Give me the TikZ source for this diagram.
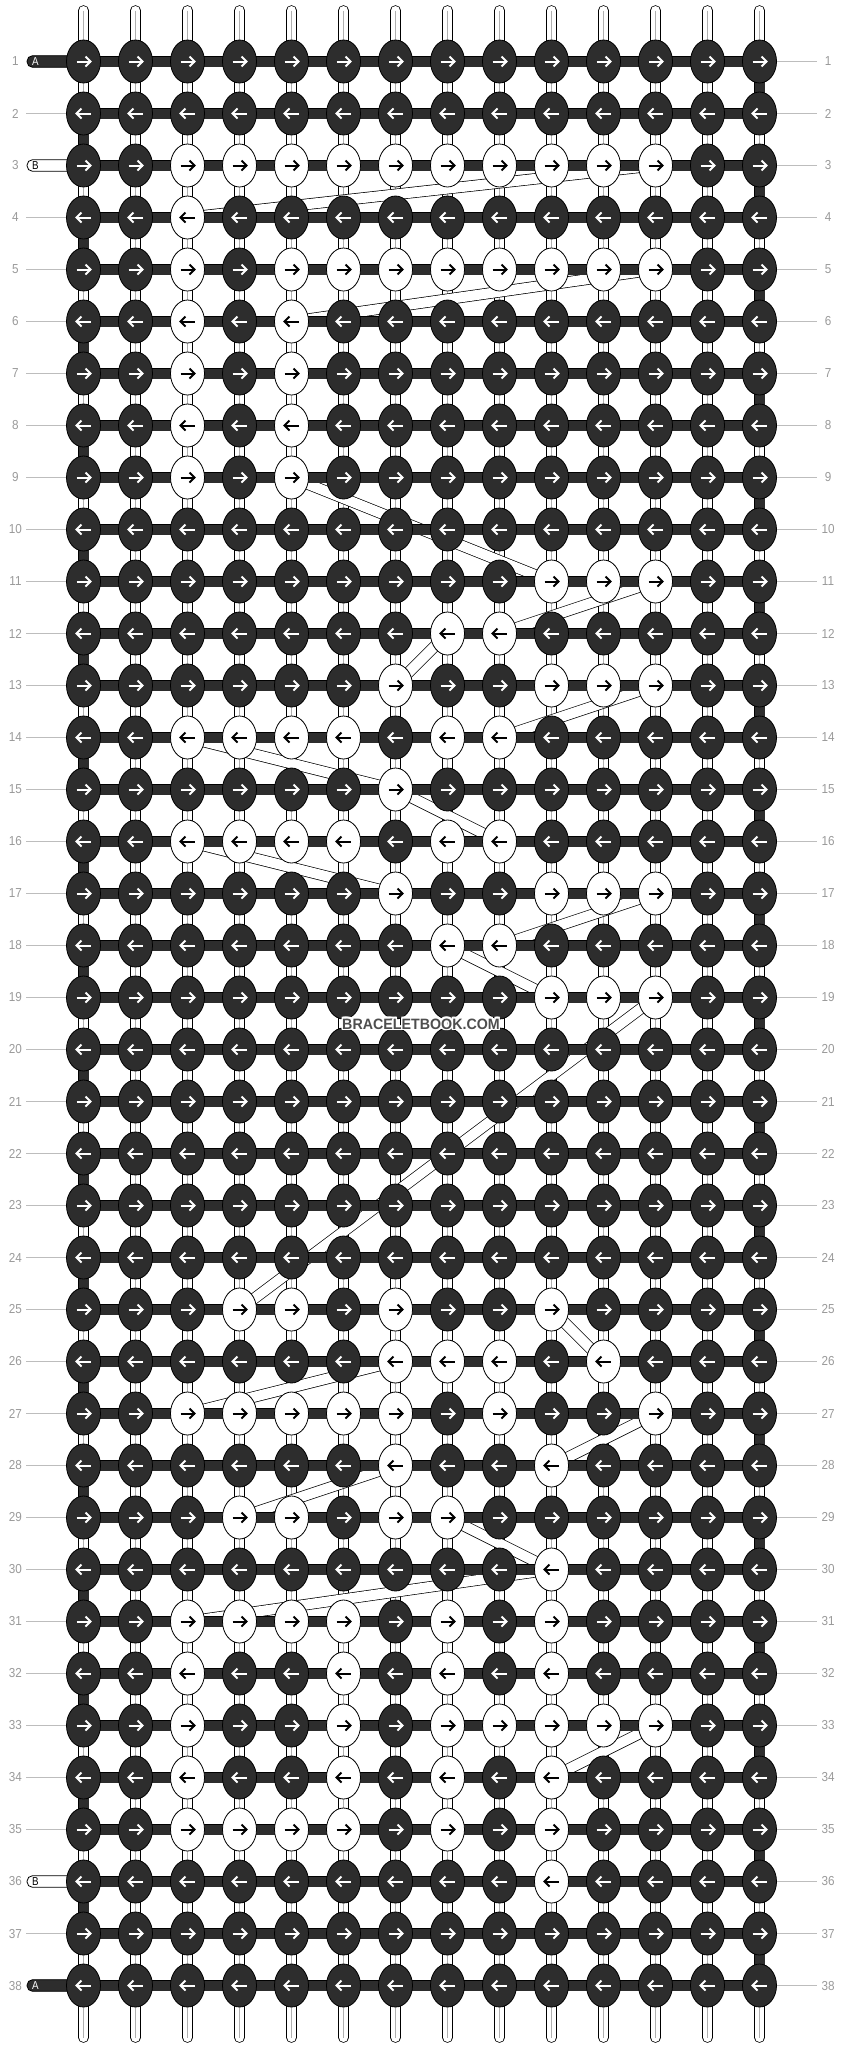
\documentclass[tikz,border=0pt]{standalone}
\usepackage{fontspec}
\setmainfont{Liberation Sans}
\usetikzlibrary{shapes.geometric}
\definecolor{knotdark}{HTML}{2D2D2D}
\definecolor{lblgray}{HTML}{9A9A9A}
\definecolor{linegray}{HTML}{BDBDBD}
\definecolor{tubegray}{HTML}{B0B0B0}
\definecolor{wmgray}{HTML}{4E4E4E}
\begin{document}
\begin{tikzpicture}[x=1pt,y=-1pt,
  knotD/.style={ellipse, draw=black, line width=0.8pt, fill=knotdark, minimum width=34pt, minimum height=43pt, inner sep=0pt},
  knotW/.style={ellipse, draw=black, line width=0.8pt, fill=white, minimum width=34pt, minimum height=43pt, inner sep=0pt},
  arrowline/.style={line width=2pt, line cap=butt, line join=miter},
  hbar/.style={draw=black, line width=0.8pt, double=knotdark, double distance=10pt},
  edgeseg/.style={draw=black, line width=0.8pt, double=knotdark, double distance=10pt},
  band/.style={draw=black, line width=0.7pt, double=white, double distance=10pt},
  lbl/.style={text=lblgray, font=\fontsize{13}{13}\selectfont, inner sep=0pt, xscale=0.9},
  lblline/.style={draw=linegray, line width=1pt},
  tailA/.style={draw=black, line width=0.8pt, fill=knotdark, rounded corners=5.5pt},
  tailB/.style={draw=black, line width=0.8pt, fill=white, rounded corners=5.5pt},
  taillbl/.style={font=\fontsize{11.5}{11.5}\selectfont, inner sep=0pt, xscale=0.85},
  wm/.style={font=\fontsize{15}{15}\selectfont\bfseries, inner sep=0pt, xscale=0.95}
]
\useasboundingbox (0,0) rectangle (844,2048);
\fill[white] (0,0) rectangle (844,2048);

% white knots
\foreach \r/\cs in {3/{3,4,5,6,7,8,9,10,11,12},4/{3},5/{3,5,6,7,8,9,10,11,12},6/{3,5},7/{3,5},8/{3,5},9/{3,5},
  11/{10,11,12},12/{8,9},13/{7,10,11,12},14/{3,4,5,6,8,9},15/{7},16/{3,4,5,6,8,9},17/{7,10,11,12},18/{8,9},19/{10,11,12},
  25/{4,5,7,10},26/{7,8,9,11},27/{3,4,5,6,7,9,12},28/{7,10},29/{4,5,7,8},30/{10},31/{3,4,5,6,8,10},32/{3,6,8,10},
  33/{3,6,8,9,10,11,12},34/{3,6,8,10},35/{3,4,5,6,8,10},36/{10}}{
  \foreach \c in \cs {\expandafter\xdef\csname wk-\r-\c\endcsname{1}}
}

% grid coordinates
\foreach \r in {1,...,38}{
  \foreach \c in {1,...,14}{
    \coordinate (p-\r-\c) at ({83.5+52*(\c-1)},{61.5+52*(\r-1)});
  }
}

% vertical strings
\foreach \c in {1,...,14}{
  \coordinate (top-\c) at ({83.5+52*(\c-1)},10.5);
  \coordinate (bot-\c) at ({83.5+52*(\c-1)},2037.5);
  \draw[line width=10.6pt, line cap=round] (top-\c) -- (bot-\c);
  \draw[white, line width=9pt, line cap=round] (top-\c) -- (bot-\c);
  \draw[tubegray, line width=0.8pt] (top-\c) -- (bot-\c);
}

% edge turns of string A
\foreach \r in {1,3,...,37}{
  \pgfmathtruncatemacro\rn{\r+1}
  \draw[edgeseg] (p-\r-14) -- (p-\rn-14);
}
\foreach \r in {2,4,...,36}{
  \pgfmathtruncatemacro\rn{\r+1}
  \draw[edgeseg] (p-\r-1) -- (p-\rn-1);
}

% floating B string segments
\foreach \a/\b in {4-3/3-12,6-5/5-12,9-5/11-10,11-12/12-9,12-8/13-7,13-12/14-9,14-3/15-7,15-7/16-9,
  16-3/17-7,17-12/18-9,18-8/19-10,19-12/25-4,25-10/26-11,26-7/27-3,27-12/28-10,28-7/29-4,29-8/30-10,
  30-10/31-3,33-12/34-10}{
  \draw[band] (p-\a) -- (p-\b);
}

% tails A / B
\filldraw[tailA] (27,55.7) rectangle (80,67.3);
\filldraw[tailA] (27,1979.7) rectangle (80,1991.3);
\filldraw[tailB] (27,159.7) rectangle (80,171.3);
\filldraw[tailB] (27,1875.7) rectangle (80,1887.3);
\node[taillbl, text=white] (tA1) at (35.5,61.5) {A};
\node[taillbl, text=white] (tA2) at (35.5,1985.5) {A};
\node[taillbl, text=black] (tB1) at (35.5,165.5) {B};
\node[taillbl, text=black] (tB2) at (35.5,1881.5) {B};

% horizontal bars
\foreach \r in {1,...,38}{
  \draw[hbar] (p-\r-1) -- (p-\r-14);
}

% knots
\foreach \r in {1,...,38}{
  \pgfmathsetmacro\ky{61.5+52*(\r-1)}
  \pgfmathsetmacro\dir{ifthenelse(mod(\r,2)==1,1,-1)}
  \foreach \c in {1,...,14}{
    \pgfmathsetmacro\kx{83.5+52*(\c-1)}
    \ifcsname wk-\r-\c\endcsname
      \node[knotW] (k-\r-\c) at (p-\r-\c) {};
      \def\acol{black}
    \else
      \node[knotD] (k-\r-\c) at (p-\r-\c) {};
      \def\acol{white}
    \fi
    \draw[arrowline, draw=\acol] ({\kx-7*\dir},\ky) -- ({\kx+7*\dir},\ky);
    \draw[arrowline, draw=\acol] ({\kx+2*\dir},{\ky-5}) -- ({\kx+7*\dir},\ky) -- ({\kx+2*\dir},{\ky+5});
  }
}

% row labels
\foreach \r in {1,...,38}{
  \pgfmathsetmacro\ky{61.5+52*(\r-1)}
  \node[lbl] (ll-\r) at (15.5,\ky) {\r};
  \node[lbl] (lr-\r) at (828,\ky) {\r};
  \coordinate (rl-\r) at (817,\ky);
  \draw[lblline] (k-\r-14.east) -- (rl-\r);
}
\foreach \r in {2,4,5,6,7,8,9,10,11,12,13,14,15,16,17,18,19,20,21,22,23,24,25,26,27,28,29,30,31,32,33,34,35,37}{
  \pgfmathsetmacro\ky{61.5+52*(\r-1)}
  \coordinate (ls-\r) at (26,\ky);
  \draw[lblline] (ls-\r) -- (k-\r-1.west);
}

% watermark
\foreach \dx/\dy [count=\i] in {-1/-1,-1/0,-1/1,0/-1,0/1,1/-1,1/0,1/1}{
  \node[wm, text=white] (wmh\i) at ({421+1.3*\dx},{1024+1.3*\dy}) {BRACELETBOOK.COM};
}
\node[wm, text=wmgray] (wm) at (421,1024) {BRACELETBOOK.COM};
\end{tikzpicture}
\end{document}
